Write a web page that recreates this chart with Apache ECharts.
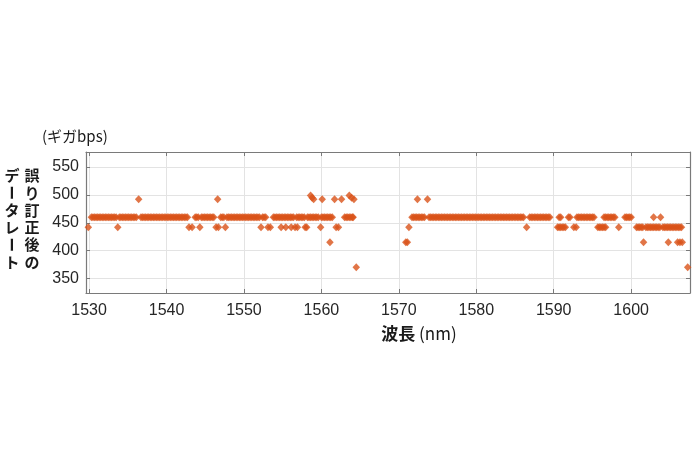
<!DOCTYPE html>
<html><head><meta charset="utf-8">
<script src="https://cdn.jsdelivr.net/npm/echarts@6/dist/echarts.min.js"></script>
<style>html,body{margin:0;padding:0;background:#fff}#c{width:700px;height:467px}</style>
</head><body><div id="c"></div>
<script>
// Tick labels
const xTicks = [1530, 1540, 1550, 1560, 1570, 1580, 1590, 1600];
const yTicks = [350, 400, 450, 500, 550];

// Wavelengths (nm) at each post-FEC data-rate level (Gbps)
const wl460 = [
  1530.3,1530.5,1530.7,1530.9,1531.1,1531.3,1531.5,1531.7,1531.9,1532.1,1532.3,1532.5,1532.7,1532.9,1533.1,1533.3,1533.5,
  1533.9,1534.1,1534.3,1534.5,1534.7,1534.9,1535.1,1535.3,1535.5,1535.7,1535.9,1536.1,
  1536.7,1536.9,1537.1,1537.3,1537.5,1537.7,1537.9,1538.1,1538.3,1538.5,1538.7,1538.9,1539.1,1539.3,1539.5,1539.7,1539.9,
  1540.1,1540.3,1540.5,1540.7,1540.9,1541.1,1541.3,1541.5,1541.7,1541.9,1542.1,1542.3,1542.5,1542.7,
  1543.7,1543.9,1544.1,1544.5,1544.7,1544.9,1545.1,1545.3,1545.5,1545.7,1545.9,1546.1,
  1547.0,1547.2,1547.4,1547.8,1548.0,1548.2,1548.4,1548.6,1548.8,1549.0,1549.2,1549.4,1549.6,1549.8,1550.0,1550.2,
  1550.4,1550.6,1550.8,1551.0,1551.2,1551.4,1551.6,1551.8,1552.0,1552.4,1552.6,1552.8,
  1553.8,1554.0,1554.2,1554.4,1554.6,1554.8,1555.0,1555.2,1555.4,1555.6,1555.8,1556.0,1556.2,1556.4,1556.8,1557.0,
  1557.2,1557.4,1557.6,1557.8,1558.2,1558.4,1558.6,1558.8,1559.0,1559.2,1559.4,1559.6,1560.0,1560.2,1560.4,1560.6,
  1560.8,1561.0,1561.2,1561.4,
  1563.0,1563.2,1563.4,1563.6,1563.8,1564.0,1564.1,
  1571.7,1571.9,1572.1,1572.3,1572.5,1572.7,1572.9,1573.1,1573.3,1573.9,1574.1,1574.3,1574.5,1574.7,1574.9,1575.1,
  1575.3,1575.5,1575.7,1575.9,1576.1,1576.3,1576.5,1576.7,1576.9,1577.1,1577.3,1577.5,1577.7,1577.9,1578.1,1578.3,
  1578.5,1578.7,1578.9,1579.1,1579.3,1579.5,1579.7,1579.9,1580.1,1580.3,1580.5,1580.7,1580.9,1581.1,1581.3,1581.5,
  1581.7,1581.9,1582.1,1582.3,1582.5,1582.7,1582.9,1583.1,1583.3,1583.5,1583.7,1583.9,1584.1,1584.3,1584.5,1584.7,
  1584.9,1585.1,1585.3,1585.5,1585.7,1585.9,1586.1,1586.9,1587.1,1587.3,1587.5,1587.7,1587.9,1588.1,1588.3,1588.5,
  1588.7,1588.9,1589.1,1589.3,1589.5,
  1590.7,1590.9,1591.9,1592.1,
  1593.0,1593.2,1593.4,1593.6,1593.8,1594.0,1594.2,1594.4,1594.6,1594.8,1595.0,1595.2,
  1596.5,1596.7,1596.9,1597.1,1597.3,1597.5,1597.7,1597.9,
  1599.2,1599.4,1599.6,1599.8,1600.0,
  1602.9,1603.8
];
const wl442 = [
  1529.9,1533.7,1542.9,1543.3,1544.3,1546.4,1546.7,1547.6,1552.2,1553.1,1553.4,1554.8,1555.4,1556.1,1556.6,1556.9,
  1557.9,1558.1,1559.9,1561.9,1562.2,1571.3,1586.5,
  1590.5,1590.7,1590.9,1591.1,1591.3,1591.5,1592.6,1592.9,
  1595.7,1595.9,1596.1,1596.3,1596.5,1596.7,1598.4,
  1600.7,1600.9,1601.1,1601.3,1601.5,1601.9,1602.1,1602.3,1602.5,1602.7,1602.9,1603.1,1603.3,1603.5,1603.7,
  1604.1,1604.3,1604.5,1604.7,1604.9,1605.1,1605.3,1605.5,1605.7,1605.9,1606.1,1606.3,1606.5
];
const wl415 = [1561.1, 1570.9, 1571.1, 1601.6, 1604.8, 1606.0, 1606.3, 1606.6];
const wl370 = [1564.5, 1607.3];
const wl492 = [1536.4, 1546.6, 1559.0, 1560.1, 1561.7, 1562.6, 1564.2, 1572.4, 1573.7];
const wl495 = [1558.8, 1563.9];
const wl499 = [1558.6, 1563.6];

const rateLevels = [460, 442, 415, 370, 492, 495, 499];
const wlByLevel = [wl460, wl442, wl415, wl370, wl492, wl495, wl499];

const points = [];
rateLevels.forEach((r, i) => wlByLevel[i].forEach(w => points.push([w, r])));

const axisColor = '#7a7a7a';
const latin = '"Liberation Sans", Arial, sans-serif';
const cjk = '"Noto Sans CJK JP", "Noto Sans", sans-serif';

const chart = echarts.init(document.getElementById('c'), null, {renderer: 'canvas'});

const col1 = '誤り訂正後の'.split('');
const col2 = 'データレート'.split('');
const graphics = [];
function addColumn(chars, cx) {
  chars.forEach((ch, i) => {
    graphics.push({
      type: 'text', x: cx, y: 175.5 + i * 17.3,
      rotation: ch === 'ー' ? -Math.PI / 2 : 0,
      style: {text: ch, fontSize: 15, fontWeight: 'bold', fontFamily: cjk, fill: '#1a1a1a',
              align: 'center', verticalAlign: 'middle'}
    });
  });
}
addColumn(col1, 32);
addColumn(col2, 12);
graphics.push({
  type: 'text', x: 42, y: 136,
  style: {text: '(ギガbps)', fontSize: 15, fontFamily: cjk, fill: '#1a1a1a', align: 'left', verticalAlign: 'middle'}
});
graphics.push({
  type: 'text', x: 419, y: 334,
  style: {text: '{b|波長} (nm)', fontSize: 17, fontFamily: cjk, fill: '#1a1a1a', align: 'center', verticalAlign: 'middle',
          rich: {b: {fontWeight: 'bold', fontSize: 17, fontFamily: cjk, fill: '#1a1a1a'}}}
});

const xMin = 1529.6, xMax = 1607.6, yMin = 324, yMax = 577;
const plain = v => String(Math.round(v));

chart.setOption({
  animation: false,
  backgroundColor: '#ffffff',
  grid: {left: 86, right: 10, top: 152, height: 141, containLabel: false},
  xAxis: [{
    type: 'value', min: xMin, max: xMax, splitNumber: 8, position: 'bottom',
    axisLine: {show: true, onZero: false, lineStyle: {color: axisColor, width: 1.2}},
    axisTick: {show: true, inside: true, length: 4, customValues: xTicks, lineStyle: {color: axisColor}},
    axisLabel: {customValues: xTicks, formatter: plain, color: '#262626', fontSize: 16, fontFamily: latin, margin: 10},
    splitLine: {show: true, lineStyle: {color: '#e3e3e3', width: 1}}
  }, {
    type: 'value', min: xMin, max: xMax, splitNumber: 8, position: 'top',
    axisLine: {show: true, onZero: false, lineStyle: {color: axisColor, width: 1.2}},
    axisTick: {show: true, inside: true, length: 4, customValues: xTicks, lineStyle: {color: axisColor}},
    axisLabel: {show: false}, splitLine: {show: false}
  }],
  yAxis: [{
    type: 'value', min: yMin, max: yMax, splitNumber: 5, position: 'left',
    axisLine: {show: true, onZero: false, lineStyle: {color: axisColor, width: 1.2}},
    axisTick: {show: true, inside: true, length: 4, customValues: yTicks, lineStyle: {color: axisColor}},
    axisLabel: {customValues: yTicks, formatter: plain, color: '#262626', fontSize: 16, fontFamily: latin, margin: 7},
    splitLine: {show: true, lineStyle: {color: '#e3e3e3', width: 1}}
  }, {
    type: 'value', min: yMin, max: yMax, splitNumber: 5, position: 'right',
    axisLine: {show: true, onZero: false, lineStyle: {color: axisColor, width: 1.2}},
    axisTick: {show: true, inside: true, length: 4, customValues: yTicks, lineStyle: {color: axisColor}},
    axisLabel: {show: false}, splitLine: {show: false}
  }],
  series: [{
    type: 'scatter', xAxisIndex: 0, yAxisIndex: 0,
    symbol: 'diamond', symbolSize: [7.5, 8],
    itemStyle: {color: '#D95319'},
    data: points
  }],
  graphic: graphics
});
</script>
</body></html>
